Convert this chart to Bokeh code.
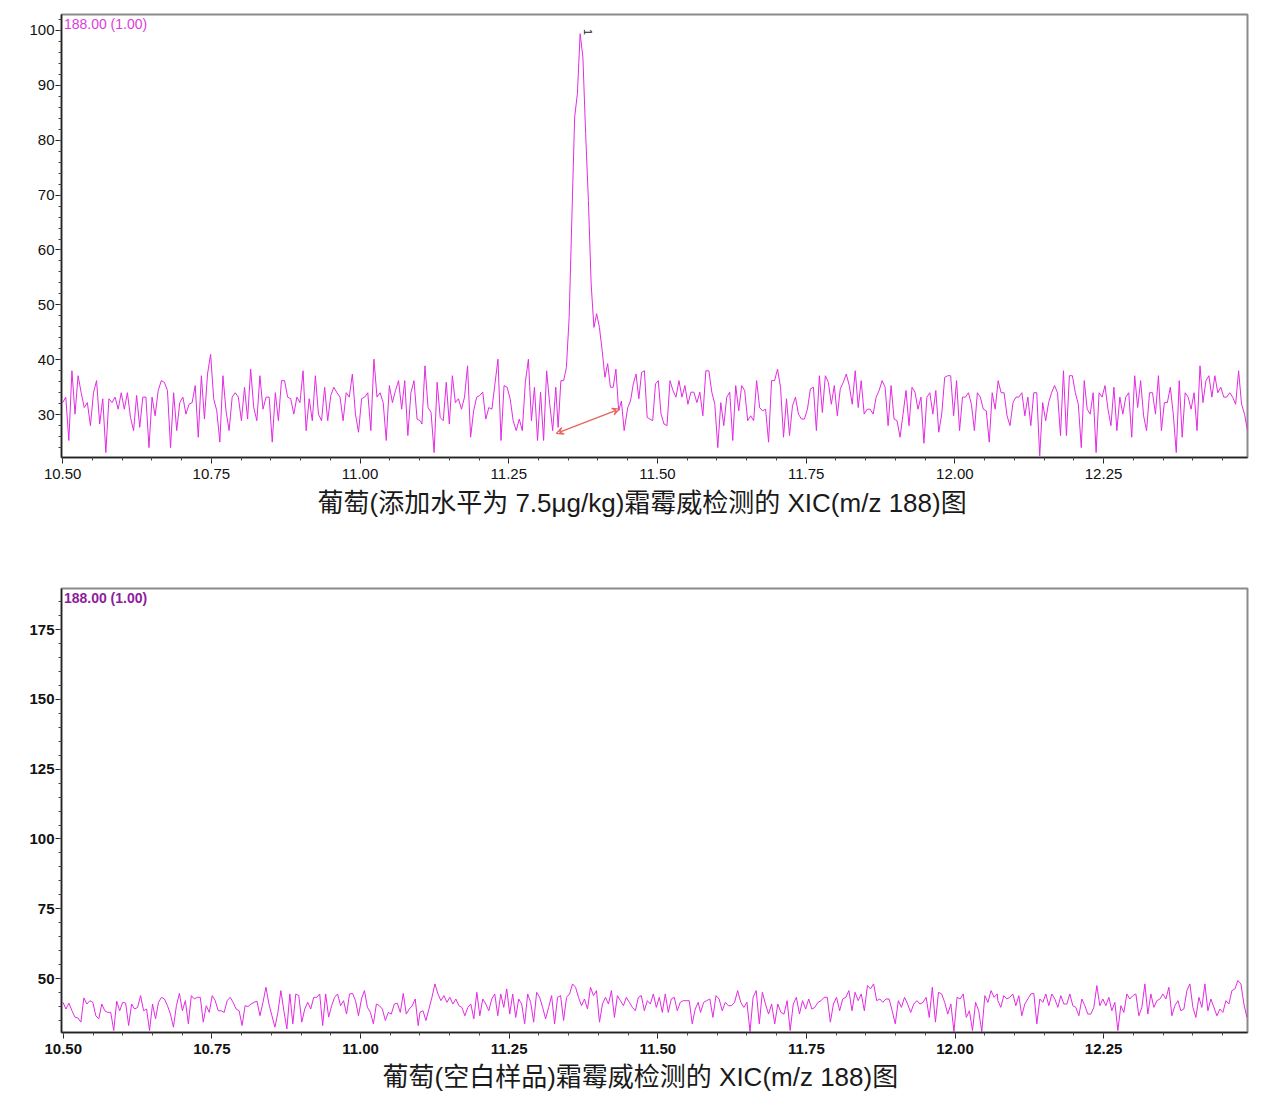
import numpy as np
from bokeh.plotting import figure
from bokeh.layouts import column
from bokeh.models import (Range1d, SingleIntervalTicker, NumeralTickFormatter,
                          Label, Arrow, VeeHead, Title)
from bokeh.embed import file_html
from bokeh.resources import INLINE

# ---------------- data ----------------
# Top panel: spiked grape sample, XIC m/z 188 (relative abundance)
top_seg_a = [32.2,33.2,25.3,38,30.1,37.1,34,31.3,32.2,28,34,36.2,28.3,32.9,23.1,32.9,32.2,33.2,31,34,31,34,29.5,27.1,33.5,27.7,33.2,33.2,24,33.2,29.8,34.4,36.2,35.9,34.4,24,34,27.1,32.2,33.2,30.1,31.9,32.2,35.3,25.9,37.1,29.2,37.4,41,32.9,30.7,25,37.1,30.7,27.1,33.2,34,33.2,28.9,35,29.2,38.3,31.3,28.9,37.1,31,33.2,33.2,25,34,28.9,36.2,36.2,33.2,32.9,30.1,33.2,32.2,38,27.1,32.9,28.9,37.1,30.1,28.9,35,28.9,33.5,35,34,33.2,28.9,34,33.2,37.4,30.1,26.8,32.9,33.2,34,27.1,40.1,33.2,34,32.2,25.3,35.3,32.2,34.4,36.2,31,36.2,26.2,34,36.2,29.2,28.9]
top_seg_b = [28.3,38.9,31.3,30.4,23.1,35.9,29.5,28.9,35.9,28.3,37.1,32.2,32.9,31,33.2,38.9,25.9,30.7,33.2,33.5,34.1,29.2,31.3,31,35.6,40.1,25.3,35.3,35,32.9,28.9,27.1,29.2,27.1,35.9,40.1,28.9,35,25.3,34.1,25.3,38,32,27.1,35]
top_peak = [27.7,36.2,36.2,38.6,47.7,66,84.2,88.5,99.4,95.1,81.2,69,53.8,45.9,48.4,45.9,41.7,36.8,39.3,35,35,38.3,30.7,32.5,27.1]
top_seg_c = [31.3,32.5,35.6,37.4,32.9,37.7,38,29.5,29.2,28.9,35.6,36.2,30.1]
top_seg_d = [28.3,28,36.2,34.4,33.2,36.2,33.2,35.3,31.9,34.1,34.1,32.2,34.1,29.8,38,38,34.1,31.9,24,32.2,28,33.2,34.1,25.3,35.3,30.7,35.3,34.4,28.9,29.8,28.9,36.2,31.3,30.7,31,25,36.2,36.2,38.3,35,25.9,32.9,26.2,31.6,33.2,30.1,29.2,29.2,31,34.7,35,27.1,37.1,30.4,37.1,35.9,31.9,35.3,29.8,34.7,35.9,37.4,35.3,31.9,38,31.3,36.2,30.1,31,31,30.1,33.2,34.4,36.2,35,28,35.3,29.2,28.9,25.9,30.1,34.4,28,35,34.1,31,33.2]
top_seg_e = [24.8,33.2,34,30.1,34.4,26.8,30.1,36.8,37.1,37.1,29.8,36.2,27.1,33.2,33.2,34,31.9,27.1,34,33.2,31,30.7,25,34,31,36.2,34,34,29.8,28,32.2,33.2,33.2,34,29.8,33.2,28,34,34,22.5,32.2,28.9,32.2,34,35.3,34,26.2,38,26.2,37.1,37.1,34,31.9,24,36.2,31,30.1,34,23.1,34,33.2,35.3,31,28,35,27.1,33.2,30.1,33.2,34,25.9,37.1,31.3,36.2,29.8,27.1,34,34,30.1,37.1,27.1,32.2,32.2,35,30.1,23.1,36.2,25.9,34,33.2,31,34,27.1,38.9,32.2,36.2,37.1,33.2,37.1,34,35,33.2,33.2,34,33.2,31.9,38,31.9,30.1,27.1]
# (retention-time start, end, intensities) for each traced stretch
top_segments = [(10.500, 11.101, top_seg_a), (11.104, 11.329, top_seg_b),
                (11.333, 11.444, top_peak), (11.450, 11.506, top_seg_c),
                (11.511, 11.943, top_seg_d), (11.948, 12.492, top_seg_e)]

# Bottom panel: blank grape sample
bot_seg_f = [41.5,39.1,41.2,38.5,36.2,35.9,34.4,43.1,40.9,42.1,41.5,36.7,35.6,40.9,38.5,37.9,37.9,31.4,41.9,38.5,41.5,41.2,33.2,40.9,39.1,39.7,43.9,38.5,39.1,31.4,40.9,35.6,41.5,43.3,42.7,40.3,37.3,32.6,40.3,44.7,38.5,42.1,33.8,43.9,42.7,43.3,43.3,34.4,40.3,37.9,43.9,42.1,38.5,38.5,37.9,42.1,43.3,41.5,39.1,38.5,33.2,40.3,40,40.9,41.5,41.9,36.7,41.5,46.9,40.9,36.7,32.6,37.9,45.7,38.5,32,44.5,33.8,44.5,43.9,34.4,39.1,41.5,39.1,43.3,43.3,44.5,33.2,44.5,36.2,40.3,43.3,44.5,40.3,42.1,37.3,44.5,44.7,42.1,36.7,42.7,45.7,39.7,37.9,33.8,40.9,40.3,39.1,35,37.9,37.3,40.9,41.2,37.9,44.7,37.3,39.1,40.3,42.7,33.2]
bot_seg_g = [37.9,38.5,35,39.1,43.3,48.1,44.5,42.1,43.9,41.5,43.3,40.9,42.7,40.3,39.7,36.7,39.7,40.9,35.6,45.1,36.7,42.7,40.9,38.5,42.7,44.5,36.7,44.5,39.7,46.3,37.3,44.5,36.1,42.7,40.9,33.8,44.5,41.5,34.4,45.1,43.3,39.7,35.6,39.7,43.9,33.8,43.3,43.9,35,43.3,44.5,48.1,46.9,43.3,40.3,42.7,39.1,46.9,43.9,45.7,34.4,40.9,43.3,40.9,45.7,36.1,43.9,42.1,40.3,43.3,41.5,39.7,38.5,43.3,43.9,38.5,42.1,40.9,44.5,39.7,43.3,37.9,44.5,37.9,42.7,43.3,38.5,41.5,42.1,42.1,42.1,33.8,39.1,41.5]
bot_seg_h = [37.9,41.5,42.1,42.7,36.1,43.9,42.7,38.5,41.5,40.3,40.3,41.5,45.7,41.5,39.7,41.5,31,43.3,45.7,33.8,45.1,40.9,37.3,40.9,33.8,40.9,37.9,37.3,42.1,31.4,40.9,43.3,37.3,42.1,39.1,42.7,39.1,39.7,41.5,42.1,43.3,43.3,34.4,40.9,43.3,38.5,42.7,43.3,45.7,38.5,45.1,42.1,44.5,38.5,47.5,46.3,48.1,42.1,42.7,41.5,42.7,42.7,38.5,33.8,42.1,39.7,43.3,40.9,37.9,40.9,42.1,40.9,41.5,43.3,36.1,46.9,34.4,45.1,44.5,41.5,37.3,40.9,31,43.3,42.7,44.5,36.1,38.5,31.4,41.5,38.5,31,43.9,41.5,45.7,43.3,44.5]
bot_seg_i = [42.1,39.7,43.9,42.7,43.3,44.5,40.3,43.9,36.7,40.9,42.7,44.5,44.7,33.8,42.7,41.5,44.5,40.3,44.5,42.7,39.7,43.9,40.9,40.9,44.5,40.3,39.7,36.7,42.7,40.3,37.3,37.3,39.7,47.5,40.3,42.7,40.3,43.3,38.5,41.5,31.4,40.3,37.9,44.5,42.7,43.9,44.5,36.7,39.7,48.1,37.3,44.5,39.7,42.1,42.7,44.5,42.7,46.9,36.7,40.3,42.1,38.5,39.1,45.7,48.1,39.7,36.1,43.3,39.7,48.1,38.5,42.7,39.7,36.7,39.1,37.9,42.1,40.9,45.7,46.3,49.3,48.1,40.9,36.1]
bot_segments = [(10.4995, 11.097, bot_seg_f), (11.100, 11.568, bot_seg_g),
                 (11.572, 12.071, bot_seg_h), (12.072, 12.491, bot_seg_i)]

trace_label = "188.00 (1.00)"
peak_number = "1"
peak_apex = (11.372, 99.4)
peak_baseline = [(11.330, 26.6), (11.436, 31.0)]
top_caption = "葡萄(添加水平为 7.5μg/kg)霜霉威检测的 XIC(m/z 188)图"
bot_caption = "葡萄(空白样品)霜霉威检测的 XIC(m/z 188)图"


def assemble(segments):
    xs, ys = [], []
    for start, end, vals in segments:
        xs.extend(np.linspace(start, end, len(vals)).tolist())
        ys.extend(vals)
    return xs, ys


LINE = "#e22be2"
CAP_FONT = "Liberation Sans, Noto Sans CJK SC"


def style(p, bold, y_interval, tick_size):
    p.background_fill_color = "white"
    p.border_fill_color = "white"
    p.outline_line_color = "#8a8a8a"
    p.outline_line_width = 2
    p.xgrid.visible = False
    p.ygrid.visible = False
    p.xaxis.ticker = SingleIntervalTicker(interval=0.25, num_minor_ticks=5)
    p.yaxis.ticker = SingleIntervalTicker(interval=y_interval, num_minor_ticks=5)
    p.xaxis.formatter = NumeralTickFormatter(format="0.00")
    for ax in (p.xaxis, p.yaxis):
        ax.axis_line_color = "#222222"
        ax.axis_line_width = 1.5
        ax.major_tick_line_color = "#222222"
        ax.minor_tick_line_color = "#444444"
        ax.major_tick_out = 6
        ax.major_tick_in = 0
        ax.minor_tick_out = 3
        ax.minor_tick_in = 0
        ax.major_label_text_font = "Liberation Sans"
        ax.major_label_text_font_size = tick_size
        ax.major_label_text_color = "#111111"
        ax.major_label_text_font_style = "bold" if bold else "normal"
    p.xaxis.major_label_standoff = 5
    p.yaxis.major_label_standoff = 1


def caption(p, text, offset, standoff):
    p.add_layout(Title(text=text, align="left", offset=offset,
                       text_font=CAP_FONT, text_font_size="26px",
                       text_font_style="normal", text_color="#1a1a1a",
                       standoff=standoff), "below")


# ---------------- top figure ----------------
tx, ty = assemble(top_segments)
p1 = figure(width=1265, height=527, x_range=Range1d(10.498, 12.492),
            y_range=Range1d(22.2, 102.9), output_backend="svg",
            toolbar_location=None, min_border_left=59, min_border_right=18,
            min_border_top=14, min_border_bottom=70)
style(p1, False, 10, "15px")
p1.line(tx, ty, line_color=LINE, line_width=1)
p1.add_layout(Arrow(x_start=peak_baseline[0][0], y_start=peak_baseline[0][1],
                    x_end=peak_baseline[1][0], y_end=peak_baseline[1][1],
                    line_color="#e5645c", line_width=1.3,
                    start=VeeHead(size=7, line_color="#e5645c", line_width=1.2, fill_alpha=0),
                    end=VeeHead(size=7, line_color="#e5645c", line_width=1.2, fill_alpha=0)))
p1.add_layout(Label(x=peak_apex[0] + 0.012, y=peak_apex[1] + 0.3, text=peak_number,
                    angle=-np.pi / 2, text_font_size="11px", text_color="#222222",
                    text_baseline="middle", text_align="center"))
p1.add_layout(Label(x=10.502, y=102.6, text=trace_label, text_baseline="top",
                    text_font="Liberation Sans", text_font_size="14px",
                    text_color="#dd3cdd"))
caption(p1, top_caption, 256, 9)

# ---------------- bottom figure ----------------
bx, by = assemble(bot_segments)
p2 = figure(width=1265, height=571, x_range=Range1d(10.497, 12.492),
            y_range=Range1d(30.7, 189.7), output_backend="svg",
            toolbar_location=None, min_border_left=61, min_border_right=15,
            min_border_top=61, min_border_bottom=66)
style(p2, True, 25, "15px")
p2.line(bx, by, line_color=LINE, line_width=1)
p2.add_layout(Label(x=10.501, y=189.3, text=trace_label, text_baseline="top",
                    text_font="Liberation Sans", text_font_size="14px",
                    text_font_style="bold", text_color="#8e1c9e"))
caption(p2, bot_caption, 321, 6)

layout = column(p1, p2, spacing=0)
open("out.html", "w").write(file_html(layout, INLINE))
